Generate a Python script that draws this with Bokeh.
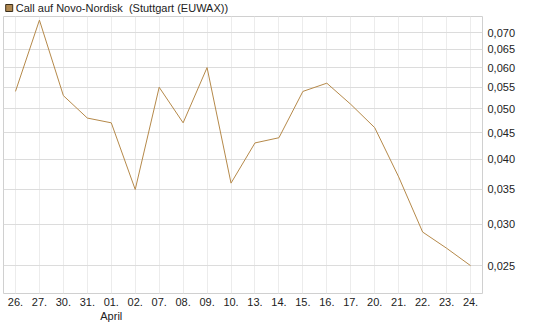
from bokeh.plotting import figure
from bokeh.layouts import column
from bokeh.models import (LogAxis, FixedTicker, CustomJSTickFormatter, Range1d,
                          ColumnDataSource, LogScale)
from bokeh.core.properties import value
from bokeh.embed import file_html
from bokeh.resources import INLINE

dates = ["26.", "27.", "30.", "31.", "01.\nApril", "02.", "07.", "08.", "09.", "10.",
         "13.", "14.", "15.", "16.", "17.", "20.", "21.", "22.", "23.", "24."]
values = [0.054, 0.074, 0.053, 0.048, 0.047, 0.035, 0.055, 0.047, 0.060, 0.036,
          0.043, 0.044, 0.054, 0.056, 0.051, 0.046, 0.037, 0.029, 0.027, 0.025]
y_ticks = [0.025, 0.030, 0.035, 0.040, 0.045, 0.050, 0.055, 0.060, 0.065, 0.070]
series_name = "Call auf Novo-Nordisk \u00a0(Stuttgart (EUWAX))"

idx = list(range(len(dates)))
src = ColumnDataSource(dict(x=idx, y=values))

FONT = "Liberation Sans"
LINE_COLOR = "#B5894A"
TEXT_COLOR = "#222222"

# ---- header (legend) ----
hdr = figure(width=545, height=16, output_backend="svg", toolbar_location=None,
             x_range=Range1d(0, 545), y_range=Range1d(0, 16),
             x_axis_location=None, y_axis_location=None, min_border=0)
hdr.outline_line_color = None
hdr.grid.visible = False
hdr.scatter([6.5], [8.5], marker="square", size=7, fill_color="#B08850",
            line_color="#3a2e1a", line_width=1)
hdr.text([14], [8.5], text=[series_name], text_font=value(FONT),
         text_font_size="11px", text_baseline="middle", text_color=TEXT_COLOR)

# ---- main chart ----
p = figure(frame_width=479, frame_height=277, output_backend="svg", toolbar_location=None,
           x_range=Range1d(-0.5, len(dates) - 0.5),
           y_range=Range1d(0.0221, 0.0752), y_axis_location=None)
p.y_scale = LogScale()

p.min_border_left = 3
p.min_border_right = 63
p.min_border_top = 0
p.min_border_bottom = 34
p.outline_line_color = "#d0d0d0"
p.background_fill_color = "white"
p.border_fill_color = "white"

p.line("x", "y", source=src, line_color=LINE_COLOR, line_width=1)

yaxis = LogAxis(ticker=FixedTicker(ticks=y_ticks),
                formatter=CustomJSTickFormatter(code="return tick.toFixed(3).replace('.', ',');"))
yaxis.axis_line_color = None
yaxis.major_tick_line_color = None
yaxis.minor_tick_line_color = None
yaxis.major_tick_out = 0
yaxis.major_tick_in = 0
yaxis.minor_tick_out = 0
yaxis.major_label_text_font = FONT
yaxis.major_label_text_font_size = "11px"
yaxis.major_label_text_color = TEXT_COLOR
yaxis.major_label_standoff = 5
p.add_layout(yaxis, "right")

xa = p.xaxis[0]
xa.ticker = FixedTicker(ticks=idx)
xa.major_label_overrides = {i: d for i, d in zip(idx, dates)}
xa.axis_line_color = None
xa.major_tick_line_color = None
xa.minor_tick_line_color = None
xa.major_tick_out = 0
xa.major_tick_in = 0
xa.minor_tick_out = 0
xa.major_label_text_font = FONT
xa.major_label_text_font_size = "11px"
xa.major_label_text_color = TEXT_COLOR
xa.major_label_standoff = 2

p.xgrid.ticker = FixedTicker(ticks=idx)
p.xgrid.grid_line_color = "#ececec"
p.ygrid.ticker = FixedTicker(ticks=y_ticks)
p.ygrid.grid_line_color = "#dcdcdc"

layout = column(hdr, p, spacing=0)
open("out.html", "w").write(file_html(layout, INLINE))
